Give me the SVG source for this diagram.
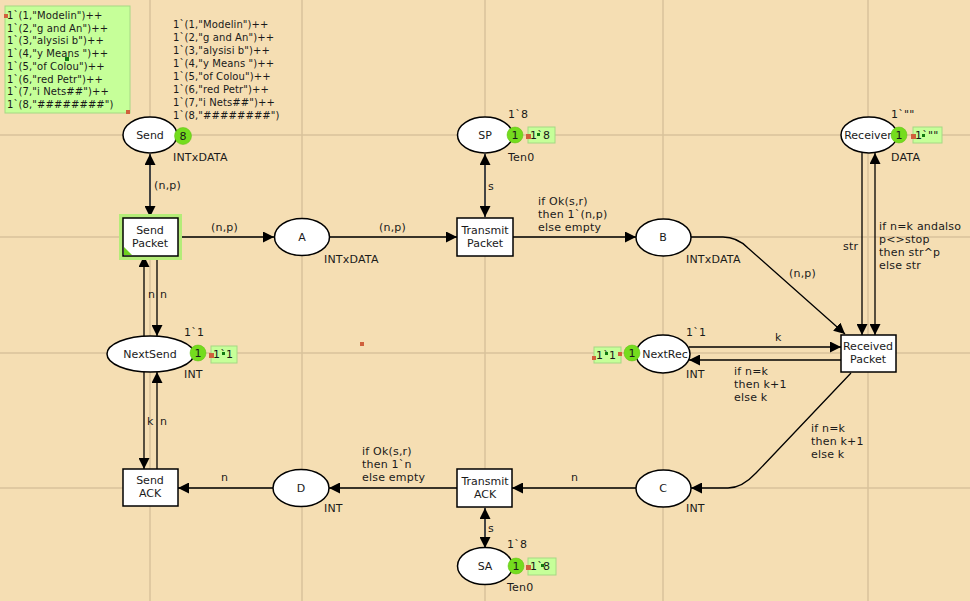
<svg xmlns="http://www.w3.org/2000/svg" width="970" height="601" viewBox="0 0 970 601">
<defs>
<marker id="arr" markerUnits="userSpaceOnUse" markerWidth="11" markerHeight="11" refX="10" refY="5" orient="auto-start-reverse" viewBox="0 0 10 10">
<path d="M0,0 L10,5 L0,10 z" fill="#000"/>
</marker>
</defs>
<style>
text{font-family:"DejaVu Sans","Liberation Sans",sans-serif;font-size:11px;fill:#1a1a1a;letter-spacing:0.2px}
.mk{font-size:10px;letter-spacing:0.1px}
.nm{text-anchor:middle;letter-spacing:0}
.place{fill:#fff;stroke:#000;stroke-width:1.5}
.trans{fill:#fff;stroke:#000;stroke-width:1.5}
.arc{fill:none;stroke:#000;stroke-width:1.3;marker-end:url(#arr)}
.dbl{fill:none;stroke:#444;stroke-width:2;marker-end:url(#arr);marker-start:url(#arr)}
.grid{stroke:#d9c29b;stroke-width:1.5}
.tok{fill:#74dc1e;stroke:#5cc010;stroke-width:0.5}
.box{fill:#c6ff99;stroke:#a6d884;stroke-width:1}
.red{fill:#d0603c}
.gd{fill:#107a10}
</style>
<rect width="970" height="601" fill="#f5deb3"/>
<g id="grid">
<line class="grid" x1="150" y1="0" x2="150" y2="601"/>
<line class="grid" x1="302" y1="0" x2="302" y2="601"/>
<line class="grid" x1="485" y1="0" x2="485" y2="601"/>
<line class="grid" x1="663" y1="0" x2="663" y2="601"/>
<line class="grid" x1="868" y1="0" x2="868" y2="601"/>
<line class="grid" x1="0" y1="135" x2="970" y2="135"/>
<line class="grid" x1="0" y1="237" x2="970" y2="237"/>
<line class="grid" x1="0" y1="353" x2="970" y2="353"/>
<line class="grid" x1="0" y1="488" x2="970" y2="488"/>
</g>
<g id="connectors">
<line class="dbl" x1="150" y1="154" x2="150" y2="217"/>
<line class="arc" x1="178" y1="237" x2="274" y2="237"/>
<line class="arc" x1="329" y1="237" x2="457" y2="237"/>
<line class="dbl" x1="485" y1="154" x2="485" y2="217"/>
<line class="arc" x1="513" y1="237" x2="636" y2="237"/>
<path class="arc" d="M691,237 L723,237 Q737,237 748,248 L845,334"/>
<line class="arc" x1="862" y1="152" x2="862" y2="335"/>
<line class="arc" x1="875" y1="335" x2="875" y2="153" style="marker-start:url(#arr)"/>
<line class="arc" x1="689" y1="347" x2="841" y2="347"/>
<line class="arc" x1="841" y1="360" x2="689" y2="360"/>
<path class="arc" d="M851,373 L756,473 Q742,488 728,488 L691,488"/>
<line class="arc" x1="636" y1="488" x2="512" y2="488"/>
<line class="arc" x1="457" y1="488" x2="329" y2="488"/>
<line class="dbl" x1="485" y1="508" x2="485" y2="548"/>
<line class="arc" x1="273" y1="488" x2="178" y2="488"/>
<line class="arc" x1="144" y1="337" x2="144" y2="256"/>
<line class="arc" x1="157" y1="256" x2="157" y2="336"/>
<line class="arc" x1="144" y1="372" x2="144" y2="469"/>
<line class="arc" x1="157" y1="469" x2="157" y2="372"/>
</g>
<g id="arc-labels">
<text x="154" y="189">(n,p)</text>
<text x="211" y="231">(n,p)</text>
<text x="379" y="231">(n,p)</text>
<text x="488" y="190">s</text>
<text x="538" y="205">if Ok(s,r)</text>
<text x="538" y="218">then 1`(n,p)</text>
<text x="538" y="231">else empty</text>
<text x="789" y="277">(n,p)</text>
<text x="843" y="250">str</text>
<text x="879" y="230">if n=k andalso</text>
<text x="879" y="243">p&lt;&gt;stop</text>
<text x="879" y="256">then str^p</text>
<text x="879" y="269">else str</text>
<text x="148" y="298">n</text>
<text x="160" y="298">n</text>
<text x="147" y="425">k</text>
<text x="160" y="425">n</text>
<text x="221" y="481">n</text>
<text x="362" y="455">if Ok(s,r)</text>
<text x="362" y="468">then 1`n</text>
<text x="362" y="481">else empty</text>
<text x="571" y="481">n</text>
<text x="488" y="532">s</text>
<text x="775" y="341">k</text>
<text x="734" y="375">if n=k</text>
<text x="734" y="388">then k+1</text>
<text x="734" y="401">else k</text>
<text x="811" y="432">if n=k</text>
<text x="811" y="445">then k+1</text>
<text x="811" y="458">else k</text>
</g>
<g id="marking-box">
<rect x="5" y="6" width="125" height="107" class="box"/>
<text class="mk" x="7" y="19">1`(1,"Modelin")++</text>
<text class="mk" x="7" y="32">1`(2,"g and An")++</text>
<text class="mk" x="7" y="44">1`(3,"alysisi b")++</text>
<text class="mk" x="7" y="57">1`(4,"y Means ")++</text>
<text class="mk" x="7" y="70">1`(5,"of Colou")++</text>
<text class="mk" x="7" y="83">1`(6,"red Petr")++</text>
<text class="mk" x="7" y="95">1`(7,"i Nets##")++</text>
<text class="mk" x="7" y="108">1`(8,"########")</text>
<rect x="4" y="14" width="4" height="4" class="red"/>
<rect x="126" y="110" width="4" height="4" class="red"/>
<rect x="65" y="57" width="4" height="4" class="gd"/>
</g>
<g id="Send">
<ellipse class="place" cx="150" cy="135" rx="27" ry="18"/>
<text class="nm" x="150" y="139">Send</text>
<circle class="tok" cx="183" cy="136" r="8.5"/>
<text class="nm" x="183" y="140">8</text>
<text x="173" y="161">INTxDATA</text>
<text class="mk" x="173" y="28">1`(1,"Modelin")++</text>
<text class="mk" x="173" y="41">1`(2,"g and An")++</text>
<text class="mk" x="173" y="54">1`(3,"alysisi b")++</text>
<text class="mk" x="173" y="67">1`(4,"y Means ")++</text>
<text class="mk" x="173" y="80">1`(5,"of Colou")++</text>
<text class="mk" x="173" y="93">1`(6,"red Petr")++</text>
<text class="mk" x="173" y="106">1`(7,"i Nets##")++</text>
<text class="mk" x="173" y="119">1`(8,"########")</text>
</g>
<g id="SendPacket">
<rect x="121" y="216" width="59" height="42" fill="none" stroke="#b4ec78" stroke-width="4"/>
<rect class="trans" x="123" y="218" width="55" height="38" stroke="#1a3a00"/>
<polygon points="124,255 124,247 132,255" fill="#6fd020"/>
<text class="nm" x="150" y="234">Send</text>
<text class="nm" x="150" y="247">Packet</text>
</g>
<g id="A">
<ellipse class="place" cx="302" cy="237" rx="27.5" ry="18.5"/>
<text class="nm" x="302" y="241">A</text>
<text x="324" y="263">INTxDATA</text>
</g>
<g id="TransmitPacket">
<rect class="trans" x="457" y="218" width="56" height="38"/>
<text class="nm" x="485" y="234">Transmit</text>
<text class="nm" x="485" y="247">Packet</text>
</g>
<g id="SP">
<ellipse class="place" cx="485" cy="135" rx="27.5" ry="18"/>
<text class="nm" x="485" y="139">SP</text>
<text x="508" y="118">1`8</text>
<text x="508" y="161">Ten0</text>
<circle class="tok" cx="515" cy="135" r="8"/>
<text class="nm" x="515" y="139">1</text>
<rect class="box" x="528" y="127" width="27" height="16"/>
<text x="530" y="139">1`8</text>
<rect x="526" y="134" width="5" height="5" class="red"/>
<rect x="537" y="133" width="3" height="3" class="gd"/>
</g>
<g id="B">
<ellipse class="place" cx="663.5" cy="237.5" rx="27.5" ry="18.5"/>
<text class="nm" x="663" y="241">B</text>
<text x="686" y="263">INTxDATA</text>
</g>
<g id="Receiver">
<ellipse class="place" cx="869" cy="135" rx="28" ry="18"/>
<text class="nm" x="868" y="139">Receiver</text>
<text x="891" y="118">1`""</text>
<text x="891" y="161">DATA</text>
<circle class="tok" cx="899" cy="135" r="8"/>
<text class="nm" x="899" y="139">1</text>
<rect class="box" x="913" y="127" width="29" height="16"/>
<text x="915" y="139">1`""</text>
<rect x="911" y="134" width="5" height="5" class="red"/>
<rect x="922" y="134" width="3" height="3" class="gd"/>
</g>
<g id="ReceivedPacket">
<rect class="trans" x="841" y="335" width="55" height="37"/>
<text class="nm" x="868" y="350">Received</text>
<text class="nm" x="868" y="363">Packet</text>
</g>
<g id="NextSend">
<ellipse class="place" cx="150.5" cy="354" rx="43.5" ry="18"/>
<text class="nm" x="150" y="358">NextSend</text>
<text x="184" y="336">1`1</text>
<text x="184" y="378">INT</text>
<circle class="tok" cx="198" cy="353" r="8"/>
<text class="nm" x="198" y="357">1</text>
<rect class="box" x="211" y="346" width="26" height="17"/>
<text x="213" y="358">1`1</text>
<rect x="209" y="353" width="5" height="5" class="red"/>
<rect x="222" y="352" width="3" height="3" class="gd"/>
</g>
<g id="NextRec">
<ellipse class="place" cx="663" cy="354" rx="27" ry="19"/>
<text class="nm" x="665" y="358">NextRec</text>
<text x="686" y="336">1`1</text>
<text x="686" y="378">INT</text>
<circle class="tok" cx="632" cy="353" r="8"/>
<text class="nm" x="632" y="357">1</text>
<rect class="box" x="594" y="347" width="27" height="16"/>
<text x="596" y="359">1`1</text>
<rect x="592" y="356" width="4" height="4" class="red"/>
<rect x="618" y="352" width="4" height="4" class="red"/>
<rect x="605" y="352" width="3" height="3" class="gd"/>
</g>
<g id="SendACK">
<rect class="trans" x="123" y="469" width="55" height="37"/>
<text class="nm" x="150" y="484">Send</text>
<text class="nm" x="150" y="497">ACK</text>
</g>
<g id="D">
<ellipse class="place" cx="301" cy="488" rx="28" ry="18.5"/>
<text class="nm" x="301" y="492">D</text>
<text x="324" y="512">INT</text>
</g>
<g id="TransmitACK">
<rect class="trans" x="457" y="469" width="55" height="38"/>
<text class="nm" x="485" y="485">Transmit</text>
<text class="nm" x="485" y="498">ACK</text>
</g>
<g id="C">
<ellipse class="place" cx="663.5" cy="488.5" rx="27.5" ry="18.5"/>
<text class="nm" x="663" y="492">C</text>
<text x="686" y="512">INT</text>
</g>
<g id="SA">
<ellipse class="place" cx="485" cy="566" rx="27.5" ry="18.5"/>
<text class="nm" x="485" y="570">SA</text>
<text x="507" y="548">1`8</text>
<text x="507" y="591">Ten0</text>
<circle class="tok" cx="516" cy="566" r="8"/>
<text class="nm" x="516" y="570">1</text>
<rect class="box" x="528" y="558" width="28" height="17"/>
<text x="530" y="570">1`8</text>
<rect x="526" y="565" width="5" height="5" class="red"/>
<rect x="541" y="564" width="3" height="3" class="gd"/>
</g>
<rect x="360" y="342" width="4" height="4" class="red"/>
</svg>
